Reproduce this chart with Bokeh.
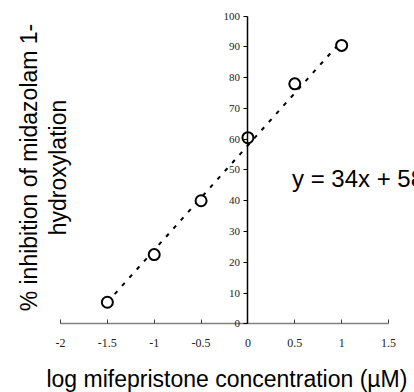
import math
from bokeh.plotting import figure
from bokeh.models import Range1d, FixedTicker, ColumnDataSource
from bokeh.core.properties import value
from bokeh.embed import file_html
from bokeh.resources import INLINE

# data
log_conc = [-1.5, -1.0, -0.5, 0.0, 0.5, 1.0]
inhibition = [7.0, 22.5, 40.0, 60.5, 78.0, 90.5]
slope = 34
intercept = 58
x_ticks = [-2, -1.5, -1, -0.5, 0, 0.5, 1, 1.5]
x_tick_labels = ["-2", "-1.5", "-1", "-0.5", "0", "0.5", "1", "1.5"]
y_ticks = [0, 10, 20, 30, 40, 50, 60, 70, 80, 90, 100]
equation = "y = 34x + 58"
x_title = "log mifepristone concentration (\u00b5M)"
y_title_lines = ["% inhibition of midazolam 1-", "hydroxylation"]

p = figure(width=414, height=392, output_backend="svg", toolbar_location=None,
           x_range=Range1d(-2.6403, 1.7775), y_range=Range1d(-22.33, 105.1),
           min_border=0, min_border_left=0, min_border_right=0,
           min_border_top=0, min_border_bottom=0)
p.outline_line_color = None
p.grid.visible = False
p.background_fill_color = "white"
p.border_fill_color = "white"

# x axis at y = 0
xa = p.xaxis[0]
xa.fixed_location = 0
xa.ticker = FixedTicker(ticks=x_ticks)
xa.major_label_overrides = {t: l for t, l in zip(x_ticks, x_tick_labels)}
xa.bounds = (x_ticks[0], x_ticks[-1])
xa.axis_line_color = "#808080"
xa.axis_line_width = 1.5
xa.major_tick_line_color = "#404040"
xa.major_tick_in = 4
xa.major_tick_out = 0
xa.minor_tick_line_color = None
xa.major_label_text_font = "Liberation Serif"
xa.major_label_text_font_size = "12px"
xa.major_label_text_color = "#222222"
xa.major_label_standoff = 15

# y axis at x = 0
ya = p.yaxis[0]
ya.fixed_location = 0
ya.ticker = FixedTicker(ticks=y_ticks)
ya.bounds = (y_ticks[0], y_ticks[-1])
ya.axis_line_color = "black"
ya.axis_line_width = 1.5
ya.major_tick_line_color = "black"
ya.major_tick_in = 0
ya.major_tick_out = 4
ya.minor_tick_line_color = None
ya.major_label_text_font = "Liberation Serif"
ya.major_label_text_font_size = "11px"
ya.major_label_text_color = "#222222"
ya.major_label_standoff = 4

# trendline
xs = [min(log_conc), max(log_conc)]
ys = [slope * x + intercept for x in xs]
p.line(xs, ys, line_color="black", line_width=2, line_dash="4 7")

# points
src = ColumnDataSource(dict(x=log_conc, y=inhibition))
p.scatter("x", "y", source=src, marker="circle", size=11, fill_color="white",
          line_color="black", line_width=2)

# equation
p.text(x=[0.47], y=[47.2], text=[equation], text_font=value("Liberation Sans"),
       text_font_size="24px", text_color="black", text_baseline="alphabetic",
       text_align="left")

# axis titles
p.text(x=[-0.224], y=[-18.1], text=[x_title], text_font=value("Liberation Sans"),
       text_font_size="23px", text_align="center", text_baseline="alphabetic",
       text_color="black")
p.text(x=[-2.3415, -2.032], y=[50.8, 50.8], text=y_title_lines,
       text_font=value("Liberation Sans"), text_font_size="23px",
       text_align="center", text_baseline="alphabetic", angle=math.pi / 2,
       text_color="black")

open("out.html", "w").write(file_html(p, INLINE))
